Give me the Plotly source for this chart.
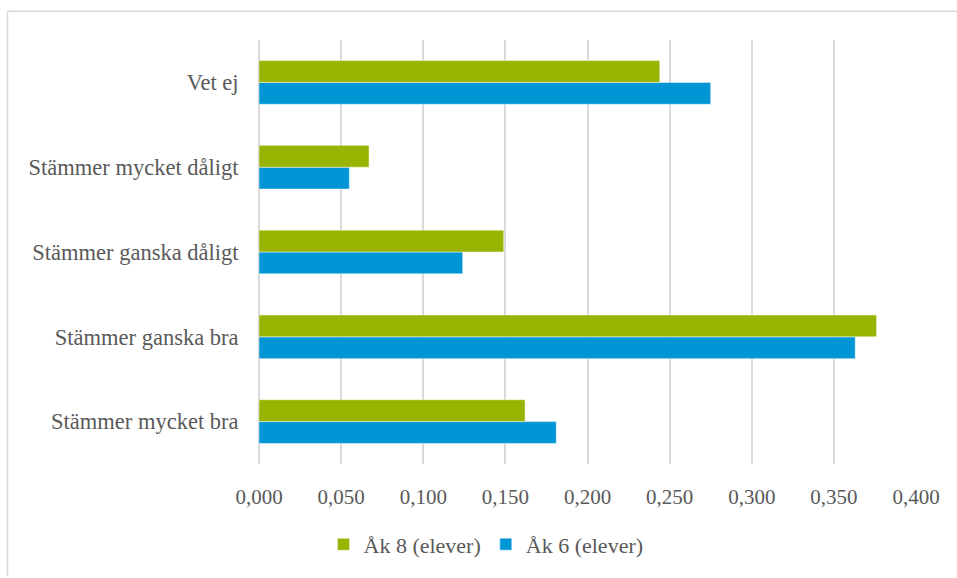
import plotly.graph_objects as go

categories = [
    "Stämmer mycket bra",
    "Stämmer ganska bra",
    "Stämmer ganska dåligt",
    "Stämmer mycket dåligt",
    "Vet ej",
]
ak8_elever = [0.162, 0.376, 0.149, 0.067, 0.244]
ak6_elever = [0.181, 0.363, 0.124, 0.055, 0.275]

series_names = ["Åk 8 (elever)", "Åk 6 (elever)"]
GREEN = "#98B400"
BLUE = "#0096D6"
TEXT = "#595959"
GRID = "#D9D9D9"
FONT = "'Liberation Serif', 'DejaVu Serif', serif"

fig = go.Figure()
fig.add_trace(go.Bar(
    y=categories, x=ak6_elever, orientation="h", name=series_names[1],
    marker=dict(color=BLUE, line=dict(color="rgba(255,255,255,0.45)", width=1)),
))
fig.add_trace(go.Bar(
    y=categories, x=ak8_elever, orientation="h", name=series_names[0],
    marker=dict(color=GREEN, line=dict(color="rgba(255,255,255,0.45)", width=1)),
))

L, R, T, B = 259, 41, 40, 111
W, H = 957, 578
pw, ph = W - L - R, H - T - B

def px_x(p):
    return (p - L) / pw

def px_y(p):
    return (H - B - p) / ph

fig.update_layout(
    width=W, height=H,
    margin=dict(l=L, r=R, t=T, b=B, pad=0),
    paper_bgcolor="white", plot_bgcolor="white",
    barmode="group", bargap=0.485, bargroupgap=0,
    separators=", ",
    font=dict(family=FONT, size=21, color=TEXT),
    showlegend=True,
    legend=dict(
        orientation="h", traceorder="reversed",
        x=px_x(486), xanchor="center", y=px_y(548), yanchor="middle",
        font=dict(family="Liberation Serif", size=22, color=TEXT),
        bgcolor="rgba(0,0,0,0)",
    ),
    xaxis=dict(
        range=[0, 0.4], dtick=0.05, tick0=0, tickformat=".3f",
        showgrid=True, gridcolor=GRID, gridwidth=1.5,
        zeroline=True, zerolinecolor=GRID, zerolinewidth=1.5,
        showline=False, ticks="outside", ticklen=14, tickcolor="rgba(0,0,0,0)",
        tickfont=dict(family=FONT, size=21, color=TEXT),
        fixedrange=True,
    ),
    yaxis=dict(
        type="category", categoryorder="array", categoryarray=categories,
        showgrid=False, zeroline=False, showline=False,
        ticks="outside", ticklen=15, tickcolor="rgba(0,0,0,0)",
        tickfont=dict(family=FONT, size=22.5, color=TEXT),
        fixedrange=True,
    ),
    shapes=[
        dict(type="line", xref="paper", yref="paper",
             x0=px_x(7.5), x1=px_x(960), y0=px_y(11), y1=px_y(11),
             line=dict(color=GRID, width=1.5)),
        dict(type="line", xref="paper", yref="paper",
             x0=px_x(7.5), x1=px_x(7.5), y0=px_y(11), y1=px_y(580),
             line=dict(color=GRID, width=1.5)),
    ],
)

fig.write_html("out.html", config={"displayModeBar": False},
               post_script="document.body.style.margin='0';")
